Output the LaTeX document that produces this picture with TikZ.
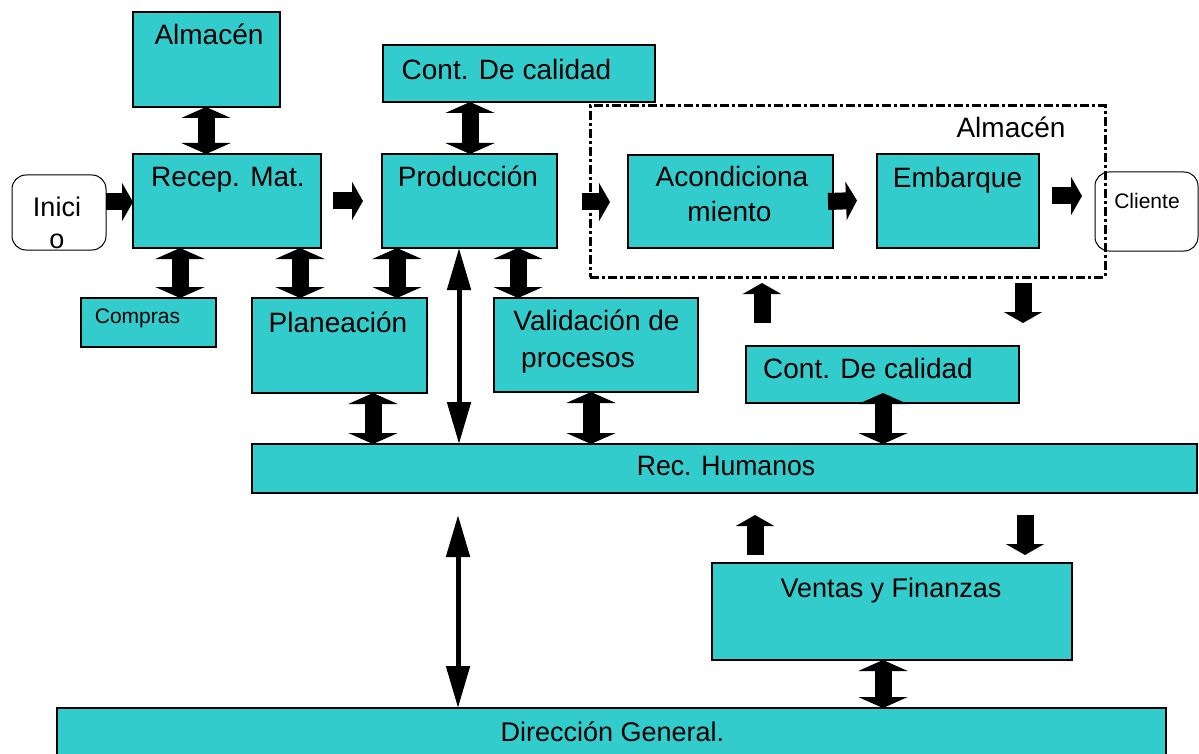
\documentclass[tikz,border=0pt]{standalone}
\usepackage{fontspec}
\setmainfont{Liberation Sans}
\usetikzlibrary{arrows.meta}
\definecolor{tealfill}{RGB}{51,204,204}
\newcommand\sx[2]{\scalebox{#1}[1]{#2}}
\begin{document}
\begin{tikzpicture}[x=1pt,y=-1pt,
 tbox/.style={draw=black, line width=1.3pt, fill=tealfill, inner sep=0pt, outer sep=0pt},
 term/.style={draw=black, line width=1pt, fill=white, rounded corners=14pt, inner sep=0pt, outer sep=0pt},
 almframe/.style={draw=black, line width=3pt, dash pattern=on 9pt off 3pt on 3pt off 3pt, inner sep=0pt, outer sep=0pt},
 lbl/.style={inner sep=0pt, anchor=base, font=\fontsize{28}{28}\selectfont},
 sml/.style={inner sep=0pt, anchor=base, font=\fontsize{21}{21}\selectfont},
 dblarrow/.style={line width=17pt, {Triangle[width=49pt,length=11pt]}-{Triangle[width=49pt,length=11pt]}},
 sglarrow/.style={line width=17pt, -{Triangle[width=38pt,length=11pt]}},
 hairarrow/.style={line width=5pt, {Triangle[width=23pt,length=42pt]}-{Triangle[width=23pt,length=42pt]}}
]
\useasboundingbox (0,0) rectangle (1199,754);
\fill[white] (0,0) rectangle (1199,754);

% boxes
\node[tbox, minimum width=147pt, minimum height=95pt] (alm) at (206.5,59.5) {};
\node[tbox, minimum width=188pt, minimum height=94pt] (rec) at (227,201) {};
\node[term, minimum width=94pt, minimum height=75pt] (ini) at (59,212.5) {};
\node[tbox, minimum width=272pt, minimum height=57pt] (cq1) at (519,73.5) {};
\node[tbox, minimum width=175pt, minimum height=94pt] (prod) at (469.5,201) {};
\node[tbox, minimum width=205pt, minimum height=93pt] (acond) at (730.5,201.5) {};
\node[tbox, minimum width=162pt, minimum height=94pt] (emb) at (958,201) {};
\node[term, minimum width=103pt, minimum height=79pt] (cli) at (1146.5,211.5) {};
\node[tbox, minimum width=135pt, minimum height=49pt] (comp) at (148.5,322.5) {};
\node[tbox, minimum width=175pt, minimum height=95pt] (plan) at (339.5,345.5) {};
\node[tbox, minimum width=204pt, minimum height=94pt] (val) at (596,345) {};
\node[tbox, minimum width=273pt, minimum height=57pt] (cq2) at (882.5,374.5) {};
\node[tbox, minimum width=945pt, minimum height=49pt] (rh) at (724.5,468.5) {};
\node[tbox, minimum width=360pt, minimum height=97pt] (vf) at (892,611.5) {};
\node[tbox, minimum width=1109pt, minimum height=52pt] (dg) at (611.5,734) {};
\node[almframe, minimum width=515pt, minimum height=171pt] (almf) at (847.5,191.5) {};

% texts
\node[lbl] (tAlm) at (209,45) {Almacén};
\node[lbl] (tRec) at (228,187) {Recep. Mat.};
\node[lbl, font=\fontsize{27}{27}\selectfont] (tIni1) at (57,217) {Inici};
\node[lbl, font=\fontsize{27}{27}\selectfont] (tIni2) at (57,248) {o};
\node[lbl] (tCq1) at (506.5,80) {Cont. De calidad};
\node[lbl] (tProd) at (468,187) {Producción};
\node[lbl] (tAc1) at (732,187) {Acondiciona};
\node[lbl] (tAc2) at (729.5,222) {miento};
\node[lbl] (tEmb) at (957.5,188) {Embarque};
\node[lbl] (tAlmf) at (1011,138) {Almacén};
\node[sml] (tCli) at (1147,208) {Cliente};
\node[sml] (tComp) at (137.5,323) {Compras};
\node[lbl] (tPlan) at (338,332) {Planeación};
\node[lbl] (tVal1) at (596.5,330) {Validación de};
\node[lbl, anchor=base west] (tVal2) at (521,367) {procesos};
\node[lbl] (tCq2) at (868,378) {Cont. De calidad};
\node[lbl] (tRh) at (726,475) {\sx{0.95}{Rec. Humanos}};
\node[lbl, font=\fontsize{27}{27}\selectfont] (tVf) at (891,597) {Ventas y Finanzas};
\node[lbl, font=\fontsize{27}{27}\selectfont] (tDg) at (612.5,741) {Dirección General.};

% vertical double block arrows
\draw[dblarrow] ([xshift=-0.5pt]alm.south) -- ([xshift=-21pt]rec.north);
\draw[dblarrow] ([xshift=-49pt]cq1.south) -- ([xshift=0.5pt]prod.north);
\draw[dblarrow] ([xshift=-47pt]rec.south) -- ([xshift=31.5pt]comp.north);
\draw[dblarrow] ([xshift=73pt]rec.south) -- ([xshift=-39.5pt]plan.north);
\draw[dblarrow] ([xshift=-72.5pt]prod.south) -- ([xshift=57.5pt]plan.north);
\draw[dblarrow] ([xshift=48.5pt]prod.south) -- ([xshift=-78pt]val.north);
\draw[dblarrow] ([xshift=33.5pt]plan.south) -- ([xshift=-351.5pt]rh.north);
\draw[dblarrow] ([xshift=-5pt]val.south) -- ([xshift=-133.5pt]rh.north);
\draw[dblarrow] ([xshift=0.5pt,yshift=10pt]cq2.south) -- ([xshift=158.5pt]rh.north);
\draw[dblarrow] ([xshift=-9pt]vf.south) -- ([xshift=271.5pt]dg.north);

% thin double arrows
\draw[hairarrow] ([xshift=-10.5pt]prod.south) -- ([xshift=-265.5pt]rh.north);
\draw[hairarrow] ([xshift=-266.5pt,yshift=-22pt]rh.south) -- ([xshift=-153.5pt]dg.north);

% single vertical arrows
\draw[sglarrow] ([xshift=-120.5pt,yshift=23pt]cq2.north) -- ([xshift=-85.5pt,yshift=-6pt]almf.south);
\draw[sglarrow] ([xshift=175.5pt,yshift=-6pt]almf.south) -- ([xshift=140.5pt,yshift=23pt]cq2.north);
\draw[sglarrow] ([xshift=-137pt,yshift=8pt]vf.north) -- ([xshift=30.5pt,yshift=-22pt]rh.south);
\draw[sglarrow] ([xshift=300.5pt,yshift=-22pt]rh.south) -- ([xshift=133pt,yshift=8pt]vf.north);

% horizontal arrows
\draw[sglarrow] ([yshift=10.5pt]ini.east) -- ([yshift=-1pt]rec.west);
\draw[sglarrow] ([xshift=12pt]rec.east) -- ([xshift=-19pt]prod.west);
\draw[sglarrow] ([xshift=25pt,yshift=-1pt]prod.east) -- ([xshift=-18pt,yshift=-0.5pt]acond.west);
\draw[sglarrow] ([xshift=-5pt]acond.east) -- ([xshift=-20pt,yshift=0.5pt]emb.west);
\draw[sglarrow] ([xshift=13pt,yshift=5pt]emb.east) -- ([xshift=-13pt,yshift=15.5pt]cli.west);
\end{tikzpicture}
\end{document}
